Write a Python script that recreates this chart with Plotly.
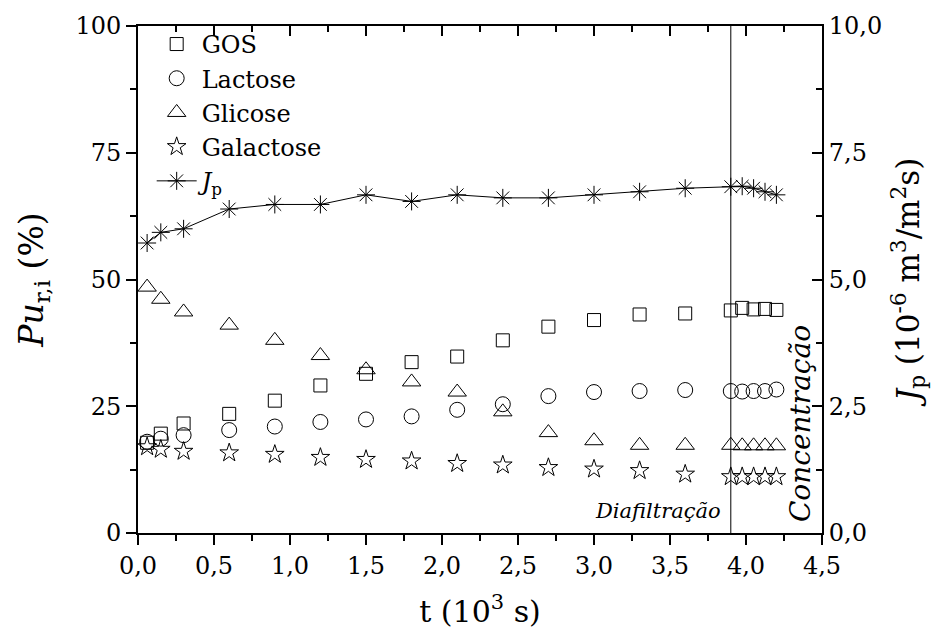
import plotly.graph_objects as go

# time (10^3 s)
t = [0.06, 0.15, 0.3, 0.6, 0.9, 1.2, 1.5, 1.8, 2.1, 2.4, 2.7, 3.0, 3.3, 3.6,
     3.9, 3.975, 4.05, 4.125, 4.2]

gos = [17.8, 19.6, 21.6, 23.5, 26.1, 29.1, 31.4, 33.7, 34.8, 38.0, 40.7, 42.0, 43.1, 43.3,
       43.9, 44.4, 44.1, 44.2, 44.0]
lactose = [18.0, 18.6, 19.3, 20.3, 21.0, 21.9, 22.4, 23.0, 24.3, 25.4, 27.0, 27.8, 28.0, 28.2,
           28.0, 27.9, 28.0, 28.0, 28.3]
glicose = [48.5, 46.1, 43.6, 41.0, 38.0, 35.0, 32.2, 29.8, 27.8, 23.9, 19.8, 18.2, 17.3, 17.3,
           17.3, 17.2, 17.2, 17.2, 17.2]
galactose = [17.0, 16.5, 16.1, 15.8, 15.5, 14.9, 14.5, 14.2, 13.7, 13.4, 12.9, 12.6, 12.3, 11.6,
             11.1, 11.1, 11.1, 11.1, 11.1]
jp = [5.72, 5.93, 6.00, 6.39, 6.48, 6.48, 6.67, 6.54, 6.67, 6.61, 6.61, 6.67, 6.73, 6.80,
      6.83, 6.84, 6.80, 6.73, 6.67]

FONT = "DejaVu Serif"
BLACK = "black"

fig = go.Figure()

def open_marker(symbol, size):
    return dict(symbol=symbol, size=size, color=BLACK, line=dict(color=BLACK, width=1))

fig.add_trace(go.Scatter(x=t, y=gos, mode="markers", name="GOS",
                         marker=open_marker("square-open", 13)))
fig.add_trace(go.Scatter(x=t, y=lactose, mode="markers", name="Lactose",
                         marker=open_marker("circle-open", 15)))
fig.add_trace(go.Scatter(x=t, y=glicose, mode="markers", name="Glicose",
                         marker=open_marker("triangle-up-open", 16)))
fig.add_trace(go.Scatter(x=t, y=galactose, mode="markers", name="Galactose",
                         marker=open_marker("star-open", 14)))
fig.add_trace(go.Scatter(x=t, y=jp, mode="lines+markers", name="<i>J</i><sub>p</sub>",
                         yaxis="y2", line=dict(color=BLACK, width=1),
                         marker=open_marker("asterisk-open", 15)))
# empty trace to anchor the top mirror axis
fig.add_trace(go.Scatter(x=[], y=[], xaxis="x2", showlegend=False))

fig.add_shape(type="line", x0=3.9, x1=3.9, y0=0, y1=100, xref="x", yref="y",
              line=dict(color=BLACK, width=1))

fig.add_annotation(x=3.85, y=1.5, xref="x", yref="y", text="<i>Diafiltração</i>",
                   showarrow=False, xanchor="right", yanchor="bottom",
                   font=dict(family=FONT, size=21, color=BLACK))
fig.add_annotation(x=4.36, y=1.8, xref="x", yref="y", text="<i>Concentração</i>",
                   showarrow=False, textangle=-90, xanchor="center", yanchor="bottom",
                   font=dict(family=FONT, size=28, color=BLACK))

tickfont = dict(family=FONT, size=24, color=BLACK)

fig.update_layout(
    width=938, height=635,
    margin=dict(l=138, r=116, t=25, b=100),
    paper_bgcolor="white", plot_bgcolor="white",
    separators=",.",
    font=dict(family=FONT, color=BLACK),
    showlegend=True,
    legend=dict(x=0.02, y=1.008, xanchor="left", yanchor="top",
                bgcolor="rgba(0,0,0,0)", font=dict(family=FONT, size=24, color=BLACK),
                tracegroupgap=0, itemwidth=40),
    xaxis=dict(range=[0, 4.5], tickvals=[0, 0.5, 1, 1.5, 2, 2.5, 3, 3.5, 4, 4.5],
               tickformat=".1f", ticks="outside", ticklen=10, tickwidth=2, tickcolor=BLACK,
               minor=dict(dtick=0.25, tick0=0, ticks="outside", ticklen=6, tickwidth=2, tickcolor=BLACK),
               showline=True, linecolor=BLACK, linewidth=2, showgrid=False, zeroline=False,
               tickfont=tickfont,
               title=dict(text="t (10<sup>3</sup> s)", font=dict(family=FONT, size=30, color=BLACK),
                          standoff=22)),
    xaxis2=dict(range=[0, 4.5], overlaying="x", side="top", anchor="y",
                tickvals=[0, 0.5, 1, 1.5, 2, 2.5, 3, 3.5, 4, 4.5],
                ticks="inside", ticklen=10, tickwidth=2, tickcolor=BLACK,
                minor=dict(dtick=0.25, tick0=0, ticks="inside", ticklen=6, tickwidth=2, tickcolor=BLACK),
                showticklabels=False, showline=True, linecolor=BLACK, linewidth=2,
                showgrid=False, zeroline=False),
    yaxis=dict(range=[0, 100], tickvals=[0, 25, 50, 75, 100],
               ticks="outside", ticklen=10, tickwidth=2, tickcolor=BLACK,
               minor=dict(dtick=12.5, tick0=0, ticks="outside", ticklen=6, tickwidth=2, tickcolor=BLACK),
               showline=True, linecolor=BLACK, linewidth=2, showgrid=False, zeroline=False,
               tickfont=tickfont,
               title=dict(text="<i>Pu</i><sub>r,i</sub> (%)", font=dict(family=FONT, size=33, color=BLACK),
                          standoff=22)),
    yaxis2=dict(range=[0, 10], overlaying="y", side="right", anchor="x",
                tickvals=[0, 2.5, 5, 7.5, 10], tickformat=".1f",
                ticks="inside", ticklen=10, tickwidth=2, tickcolor=BLACK,
                minor=dict(dtick=1.25, tick0=0, ticks="inside", ticklen=6, tickwidth=2, tickcolor=BLACK),
                showline=True, linecolor=BLACK, linewidth=2, showgrid=False, zeroline=False,
                tickfont=tickfont,
                title=dict(text="<i>J</i><sub>p</sub> (10<sup>-6</sup> m<sup>3</sup>/m<sup>2</sup>s)",
                           font=dict(family=FONT, size=31, color=BLACK), standoff=16)),
)

fig.write_html("out.html")
